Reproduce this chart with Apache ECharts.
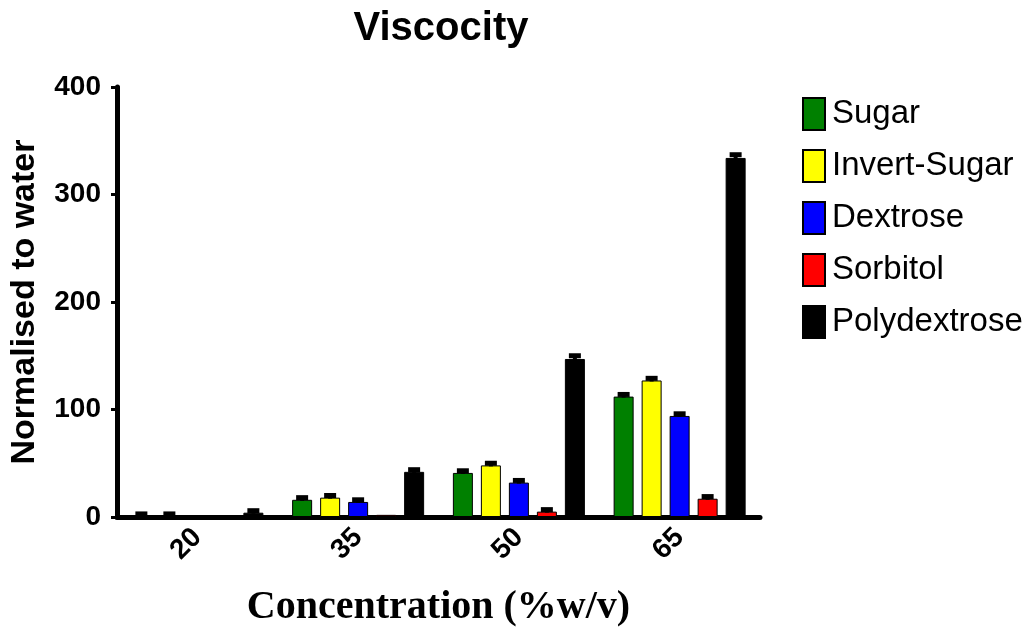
<!DOCTYPE html>
<html>
<head>
<meta charset="utf-8">
<script src="https://cdn.jsdelivr.net/npm/echarts@6/dist/echarts.min.js"></script>
<style>
  html, body { margin: 0; padding: 0; background: #fff; }
  #chart { width: 1032px; height: 632px; }
</style>
</head>
<body>
<div id="chart"></div>
<script>
// Concentrations (%w/v)
const categories = ['20', '35', '50', '65'];

// Viscosity normalised to water, per sweetener
const sugar        = [1, 16, 41, 112];
const invertSugar  = [1, 18, 48, 127];
const dextrose     = [0, 14, 32, 94];
const sorbitol     = [0, 2, 5, 17];
const polydextrose = [4, 42, 147, 334];

// Standard error of each mean
const sugarErr        = [1, 2, 2, 2];
const invertSugarErr  = [1, 2, 2, 2];
const dextroseErr     = [0, 2, 2, 2];
const sorbitolErr     = [0, 0, 1, 2];
const polydextroseErr = [1, 2, 3, 3];

const yTicks = [0, 100, 200, 300, 400];

const seriesDefs = [
  { name: 'Sugar',        color: '#008000', values: sugar,        errs: sugarErr },
  { name: 'Invert-Sugar', color: '#ffff00', values: invertSugar,  errs: invertSugarErr },
  { name: 'Dextrose',     color: '#0000ff', values: dextrose,     errs: dextroseErr },
  { name: 'Sorbitol',     color: '#ff0000', values: sorbitol,     errs: sorbitolErr },
  { name: 'Polydextrose', color: '#000000', values: polydextrose, errs: polydextroseErr }
];

const BAR_WIDTH = 20;
const BAR_GAP = 0.4;   // fraction of bar width between neighbouring bars

const chart = echarts.init(document.getElementById('chart'));

const barSeries = seriesDefs.map(d => ({
  name: d.name,
  type: 'bar',
  data: d.values,
  barWidth: BAR_WIDTH,
  barGap: (BAR_GAP * 100) + '%',
  itemStyle: { color: d.color, borderColor: '#000', borderWidth: 1 },
  emphasis: { disabled: true },
  z: 2
}));

// Upper error bars with caps, placed over their own bar in each group
const errorSeries = seriesDefs.map((d, i) => ({
  type: 'custom',
  name: d.name + ' error',
  data: d.values.map((v, k) => [k, v, d.errs[k]]),
  z: 3,
  silent: true,
  renderItem: function (params, api) {
    const k = api.value(0), v = api.value(1), e = api.value(2);
    if (!e) return null;
    const step = BAR_WIDTH * (1 + BAR_GAP);
    const offset = (i - (seriesDefs.length - 1) / 2) * step;
    const base = api.coord([k, v]);
    const top = api.coord([k, v + e]);
    const x = base[0] + offset;
    const capY = Math.min(top[1], base[1] - 2);
    return {
      type: 'group',
      children: [
        { type: 'line', shape: { x1: x, y1: base[1] + 1, x2: x, y2: capY },
          style: { stroke: '#000', lineWidth: 4 } },
        { type: 'line', shape: { x1: x - 6, y1: capY, x2: x + 6, y2: capY },
          style: { stroke: '#000', lineWidth: 5 } }
      ]
    };
  }
}));

chart.setOption({
  animation: false,
  backgroundColor: '#fff',
  title: {
    text: 'Viscocity',
    left: 436,
    textAlign: 'center',
    top: 4,
    textStyle: { fontFamily: 'Liberation Sans, Arial, sans-serif', fontWeight: 'bold', fontSize: 40, color: '#000' }
  },
  legend: {
    data: seriesDefs.map(d => d.name),
    orient: 'vertical',
    left: 797,
    top: 92,
    icon: 'rect',
    itemWidth: 22,
    itemHeight: 32,
    itemGap: 18,
    selectedMode: false,
    textStyle: { fontFamily: 'Liberation Sans, Arial, sans-serif', fontSize: 33, color: '#000', padding: [0, 0, 0, 2] }
  },
  grid: { left: 117, right: 272, top: 87, bottom: 115, outerBoundsMode: 'none' },
  xAxis: {
    type: 'category',
    data: categories,
    boundaryGap: true,
    axisLine: { lineStyle: { color: '#000', width: 5 } },
    axisTick: { alignWithLabel: true, length: 6, lineStyle: { color: '#000', width: 3 } },
    axisLabel: {
      rotate: 45, margin: 16,
      fontFamily: 'Liberation Sans, Arial, sans-serif', fontWeight: 'bold', fontSize: 28, color: '#000'
    },
    name: 'Concentration (%w/v)',
    nameLocation: 'middle',
    nameGap: 71,
    nameTextStyle: { fontFamily: 'Liberation Serif, Times New Roman, serif', fontWeight: 'bold', fontSize: 40, color: '#000' }
  },
  yAxis: {
    type: 'value',
    min: yTicks[0],
    max: yTicks[yTicks.length - 1],
    interval: 100,
    splitLine: { show: false },
    axisLine: { show: true, lineStyle: { color: '#000', width: 5 } },
    axisTick: { show: true, length: 6, lineStyle: { color: '#000', width: 3 } },
    axisLabel: {
      margin: 16,
      fontFamily: 'Liberation Sans, Arial, sans-serif', fontWeight: 'bold', fontSize: 28, color: '#000'
    },
    name: 'Normalised to water',
    nameLocation: 'middle',
    nameRotate: 90,
    nameGap: 75,
    nameTextStyle: { fontFamily: 'Liberation Sans, Arial, sans-serif', fontWeight: 'bold', fontSize: 34, color: '#000' }
  },
  series: barSeries.concat(errorSeries)
});
</script>
</body>
</html>
